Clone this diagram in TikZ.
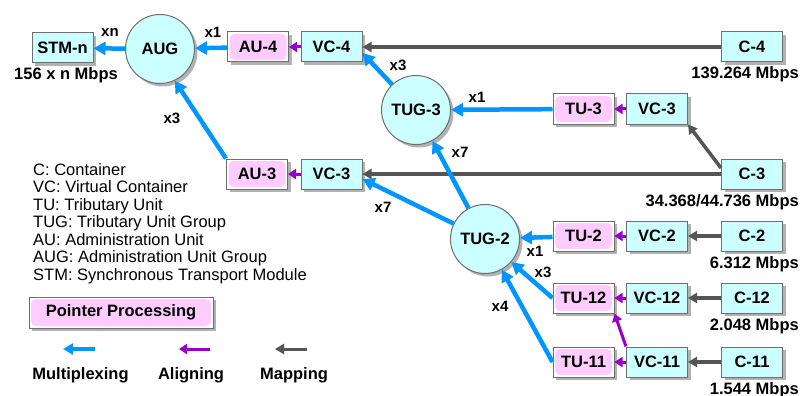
\documentclass[tikz,border=0pt]{standalone}
\usepackage{fontspec}
\setmainfont{Liberation Sans}
\usetikzlibrary{arrows.meta,shadows,positioning}
\definecolor{cyanfill}{RGB}{204,255,255}
\definecolor{pinkfill}{RGB}{255,204,255}
\definecolor{edgegray}{RGB}{110,110,110}
\definecolor{muxblue}{RGB}{0,150,255}
\definecolor{alignpurple}{RGB}{150,0,200}
\definecolor{mapgray}{RGB}{85,85,85}
\tikzstyle{unit}=[draw=edgegray,line width=1pt,minimum width=61pt,minimum height=30pt,inner sep=0pt,font=\fontsize{16.5}{16.5}\selectfont\bfseries,drop shadow={shadow xshift=3pt,shadow yshift=-3pt,fill=black!30,opacity=1}]
\tikzstyle{container}=[unit,fill=cyanfill]
\tikzstyle{pointer}=[unit,fill=white,path picture={\fill[pinkfill,rounded corners=5pt] ([shift={(2pt,2pt)}]path picture bounding box.south west) rectangle ([shift={(-2pt,-2pt)}]path picture bounding box.north east);}]
\tikzstyle{group}=[circle,draw=edgegray,line width=1pt,fill=cyanfill,minimum size=69pt,inner sep=0pt,font=\fontsize{16.5}{16.5}\selectfont\bfseries,drop shadow={shadow xshift=3pt,shadow yshift=-3pt,fill=black!30,opacity=1}]
\tikzstyle{multiplex}=[draw=muxblue,line width=4.5pt,-{Triangle[length=12pt,width=13pt]}]
\tikzstyle{alignarrow}=[draw=alignpurple,line width=3pt,-{Triangle[length=8pt,width=10pt]}]
\tikzstyle{maparrow}=[draw=mapgray,line width=3.5pt,-{Triangle[length=9pt,width=10pt]}]
\tikzstyle{mult}=[font=\fontsize{15}{15}\selectfont\bfseries,inner sep=0pt]
\tikzstyle{rate}=[font=\fontsize{16.5}{16.5}\selectfont\bfseries,inner sep=0pt]
\newcommand{\tributaryrow}[3]{% #1 = level, #2 = y, #3 = rate
  \node[pointer] (tu#1) at (583.5,#2) {TU-#1};
  \node[container] (vc#1) at (657,#2) {VC-#1};
  \node[container] (c#1) at (752,#2) {C-#1};
  \node[rate,anchor=base east] (r#1) at (799,#2+32) {#3 Mbps};
  \draw[alignarrow] (vc#1) -- (tu#1);
  \draw[maparrow] (c#1) -- (vc#1);
}

\begin{document}
\begin{tikzpicture}[x=1pt,y=-1pt]
  \useasboundingbox (0,0) rectangle (804,396);
  % top path: C-4 up to STM-n
  \node[container] (stm) at (62.5,48) {STM-n};
  \node[rate,anchor=base] (rstm) at (66,80) {156 x n Mbps};
  \node[group] (aug) at (160,49) {AUG};
  \node[pointer] (au4) at (258,47) {AU-4};
  \node[container] (vc4) at (331.5,47) {VC-4};
  \node[container] (c4) at (752,47) {C-4};
  \node[rate,anchor=base east] (r4) at (799,78) {139.264 Mbps};
  \draw[maparrow] (c4) -- (vc4);
  \draw[alignarrow] (vc4) -- (au4);
  \draw[multiplex] (au4) -- (aug);
  \draw[multiplex] (aug) -- (stm);
  \node[mult] (nxn) at (110,32) {xn};
  \node[mult] (nau4) at (213,32) {x1};

  % TUG-3 branch
  \node[group] (tug3) at (416,110) {TUG-3};
  \node[pointer] (tu3) at (583.5,109) {TU-3};
  \node[container] (vc3a) at (657,109) {VC-3};
  \node[container] (c3) at (752,174) {C-3};
  \node[rate,anchor=base east] (r3) at (799,206) {34.368/44.736 Mbps};
  \draw[maparrow] ([yshift=6pt]c3.west) -- (vc3a.south east);
  \draw[alignarrow] (vc3a) -- (tu3);
  \draw[multiplex] (tu3) -- (tug3);
  \draw[multiplex] (tug3) -- ([yshift=-6pt]vc4.east);
  \node[mult] (ntu3) at (477,97) {x1};
  \node[mult] (ntug3) at (398,65) {x3};

  % AU-3 branch
  \node[pointer] (au3) at (257,174) {AU-3};
  \node[container] (vc3b) at (331.5,174) {VC-3};
  \draw[maparrow] (c3) -- (vc3b);
  \draw[alignarrow] (vc3b) -- (au3);
  \draw[multiplex] (au3.north west) -- (aug.-65);
  \node[mult] (nau3) at (172,118) {x3};

  % TUG-2 and lower rates
  \node[group] (tug2) at (485,239) {TUG-2};
  \tributaryrow{2}{236}{6.312}
  \tributaryrow{12}{298}{2.048}
  \tributaryrow{11}{362}{1.544}
  \draw[alignarrow] (vc11.north west) -- (tu12.south east);
  \draw[multiplex] (tu2) -- (tug2);
  \draw[multiplex] (tu12.west) -- (tug2);
  \draw[multiplex] (tu11.west) -- (tug2);
  \draw[multiplex] (tug2) -- (tug3);
  \draw[multiplex] (tug2) -- ([yshift=-5pt]vc3b.east);
  \node[mult] (ntu2) at (535,251) {x1};
  \node[mult] (ntu12) at (543,272) {x3};
  \node[mult] (ntu11) at (500,306) {x4};
  \node[mult] (nt3) at (460,152) {x7};
  \node[mult] (nv3) at (383,207) {x7};

  % key
  \node[align=left,anchor=north west,inner sep=0pt,font=\fontsize{16.5}{17.5}\selectfont] (key) at (33,163)
    {C: Container\\VC: Virtual Container\\TU: Tributary Unit\\TUG: Tributary Unit Group\\AU: Administration Unit\\AUG: Administration Unit Group\\STM: Synchronous Transport Module};
  \node[pointer,minimum width=184pt,minimum height=31pt,drop shadow={opacity=0}] (ptr) at (121,312.5) {Pointer Processing};
  \coordinate (ma) at (95,349);  \coordinate (mb) at (63,349);
  \coordinate (aa) at (210,349); \coordinate (ab) at (179,349);
  \coordinate (pa) at (307,349); \coordinate (pb) at (275,349);
  \draw[multiplex,line width=4pt,-{Triangle[length=10pt,width=11pt]}] (ma) -- (mb);
  \draw[alignarrow] (aa) -- (ab);
  \draw[maparrow,line width=3pt] (pa) -- (pb);
  \node[rate,anchor=base] (lmux) at (80.5,379) {Multiplexing};
  \node[rate,anchor=base] (lalign) at (191,379) {Aligning};
  \node[rate,anchor=base] (lmap) at (294,379) {Mapping};
\end{tikzpicture}
\end{document}
